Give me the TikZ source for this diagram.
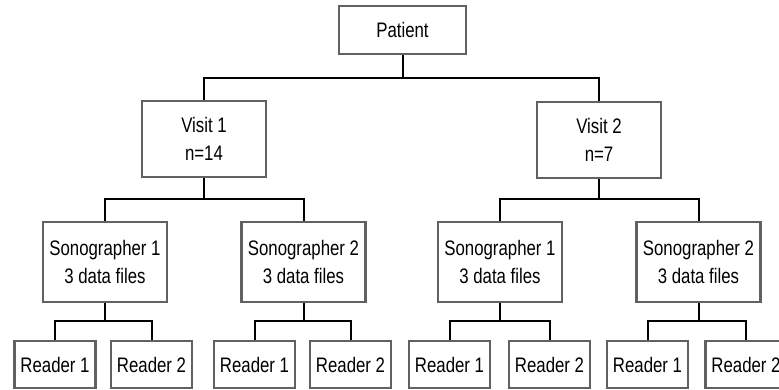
\documentclass[tikz,border=0pt]{standalone}
\usepackage{fontspec}
\setmainfont{Liberation Sans}[FakeStretch=0.8]
\begin{document}
\begin{tikzpicture}[x=1pt,y=-1pt,
  box/.style={draw=black!62, line width=2.8pt, fill=white, inner sep=0pt, align=center,
    font=\fontsize{21}{27.5}\selectfont},
  topbox/.style={box, minimum width=127pt, minimum height=48pt},
  visitbox/.style={box, minimum width=124pt, minimum height=76pt},
  sonobox/.style={box, minimum width=124pt, minimum height=80pt},
  readbox/.style={box, minimum width=81pt, minimum height=47pt},
  link/.style={draw=black, line width=2pt}]
\useasboundingbox (0,0) rectangle (779,390);
\clip (0,0) rectangle (779,390);
% nodes
\node[topbox] (P) at (402.5,30) {Patient};
\node[visitbox] (V1) at (204,139) {Visit 1\\n=14};
\node[visitbox] (V2) at (599,140) {Visit 2\\n=7};
\node[sonobox] (S1) at (105,262) {Sonographer 1\\3 data files};
\node[sonobox] (S2) at (303.5,262) {Sonographer 2\\3 data files};
\node[sonobox] (S3) at (500,262) {Sonographer 1\\3 data files};
\node[sonobox] (S4) at (698.5,262) {Sonographer 2\\3 data files};
\node[readbox] (R1) at (55,364.5) {Reader 1};
\node[readbox] (R2) at (151.5,364.5) {Reader 2};
\node[readbox] (R3) at (254.5,364.5) {Reader 1};
\node[readbox] (R4) at (350.5,364.5) {Reader 2};
\node[readbox] (R5) at (449.5,364.5) {Reader 1};
\node[readbox] (R6) at (549.5,364.5) {Reader 2};
\node[readbox] (R7) at (647.5,364.5) {Reader 1};
\node[readbox] (R8) at (746,364.5) {Reader 2};
% bar coordinates
\coordinate (bA) at (402.5,78);
\coordinate (bB1) at (204,199.5);
\coordinate (bB2) at (599,199.5);
\coordinate (bC1) at (105,321);
\coordinate (bC2) at (303.5,321);
\coordinate (bC3) at (500,321);
\coordinate (bC4) at (698.5,321);
% connectors
\draw[link] (P.south) -- (bA);
\draw[link] (V1.north) |- (bA) -| (V2.north);
\draw[link] (V1.south) -- (bB1);
\draw[link] (S1.north) |- (bB1) -| (S2.north);
\draw[link] (V2.south) -- (bB2);
\draw[link] (S3.north) |- (bB2) -| (S4.north);
\draw[link] (S1.south) -- (bC1);
\draw[link] (R1.north) |- (bC1) -| (R2.north);
\draw[link] (S2.south) -- (bC2);
\draw[link] (R3.north) |- (bC2) -| (R4.north);
\draw[link] (S3.south) -- (bC3);
\draw[link] (R5.north) |- (bC3) -| (R6.north);
\draw[link] (S4.south) -- (bC4);
\draw[link] (R7.north) |- (bC4) -| (R8.north);
\end{tikzpicture}
\end{document}
